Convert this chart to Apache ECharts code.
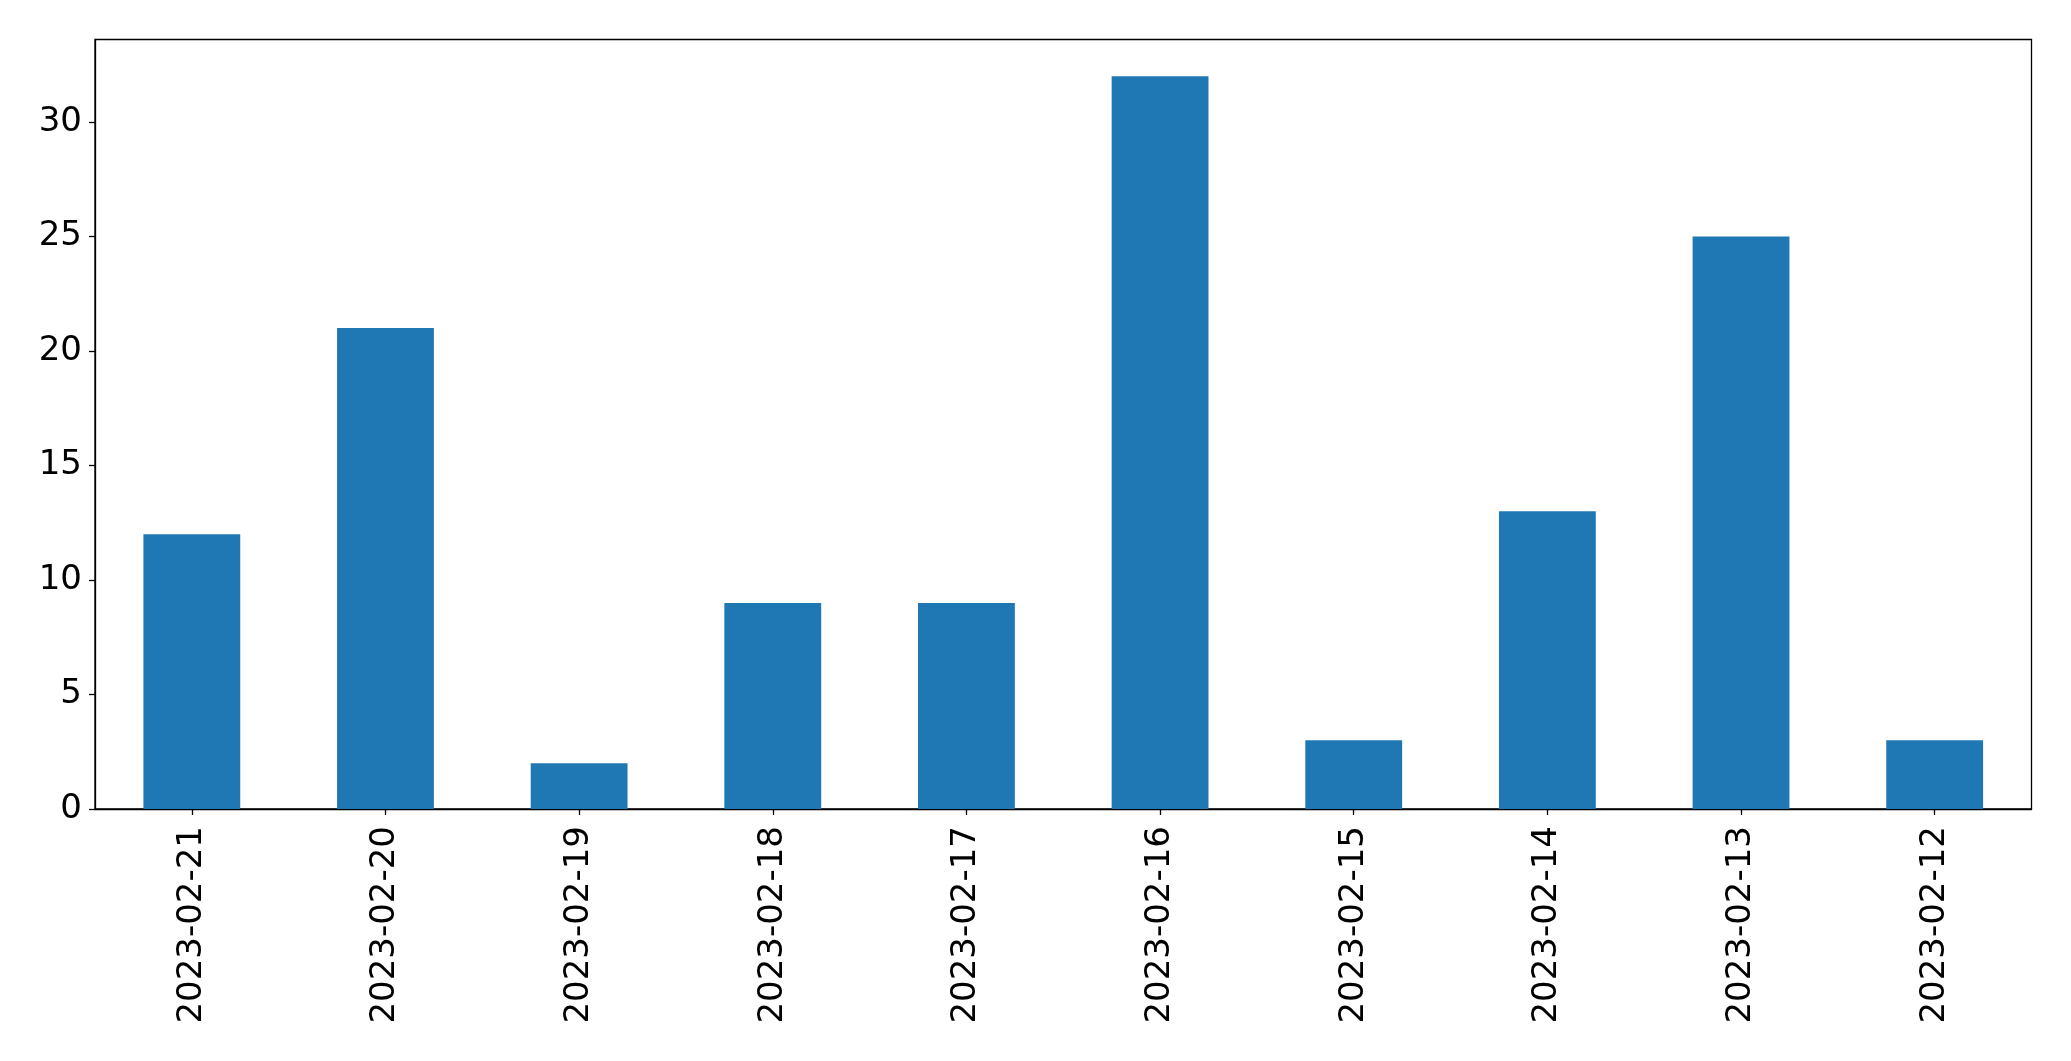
<!DOCTYPE html>
<html>
<head>
<meta charset="utf-8">
<script src="https://cdn.jsdelivr.net/npm/echarts@6/dist/echarts.min.js"></script>
<style>
html,body{margin:0;padding:0;background:#fff;}
#chart{width:2071px;height:1061px;}
</style>
</head>
<body>
<div id="chart"></div>
<script>
var categories = ['2023-02-21','2023-02-20','2023-02-19','2023-02-18','2023-02-17','2023-02-16','2023-02-15','2023-02-14','2023-02-13','2023-02-12'];
var values = [12, 21, 2, 9, 9, 32, 3, 13, 25, 3];
var yTicks = [0, 5, 10, 15, 20, 25, 30];

var chart = echarts.init(document.getElementById('chart'));
var font = 'DejaVu Sans';
chart.setOption({
  animation: false,
  backgroundColor: '#ffffff',
  grid: {
    left: 95, top: 39.5, right: 39.5, bottom: 252,
    show: true, borderColor: '#000', borderWidth: 1.3, backgroundColor: 'transparent'
  },
  xAxis: {
    type: 'category',
    data: categories,
    axisLine: { show: true, lineStyle: { color: '#000', width: 1.3 } },
    axisTick: { show: true, alignWithLabel: true, length: 6, lineStyle: { color: '#000', width: 1.3 } },
    axisLabel: { rotate: 90, color: '#000', fontFamily: font, fontSize: 34, margin: 17 },
    splitLine: { show: false }
  },
  yAxis: {
    type: 'value',
    min: 0, max: 33.6, interval: 5,
    axisLine: { show: true, lineStyle: { color: '#000', width: 1.3 } },
    axisTick: { show: true, length: 6, lineStyle: { color: '#000', width: 1.3 }, customValues: yTicks },
    axisLabel: { color: '#000', fontFamily: font, fontSize: 34, margin: 13, customValues: yTicks },
    splitLine: { show: false }
  },
  series: [{
    type: 'bar',
    data: values,
    barWidth: '50%',
    itemStyle: { color: '#1f77b4' }
  }]
});
</script>
</body>
</html>
